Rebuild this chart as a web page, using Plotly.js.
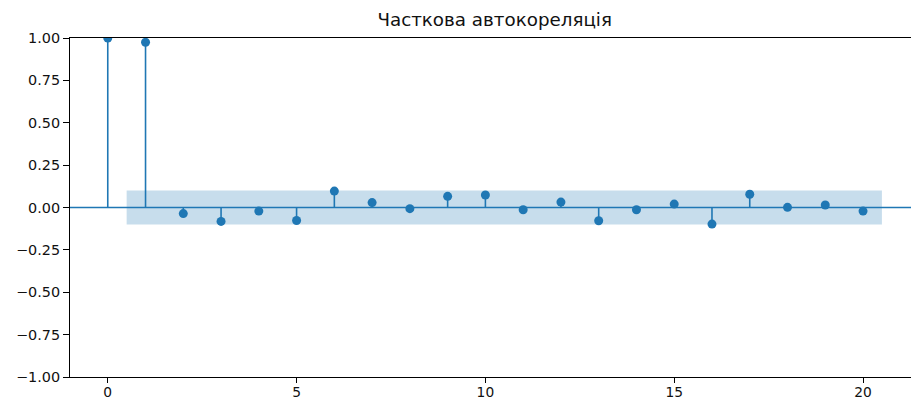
<!DOCTYPE html>
<html>
<head>
<meta charset="utf-8">
<script src="https://cdn.plot.ly/plotly-3.0.1.min.js"></script>
<style>html,body{margin:0;padding:0;background:#fff}#chart{width:911px;height:402px}</style>
</head>
<body>
<div id="chart"></div>
<script>
const chartTitle = "Часткова автокореляція";
const lags = [0,1,2,3,4,5,6,7,8,9,10,11,12,13,14,15,16,17,18,19,20];
const pacf = [1.0,0.975,-0.036,-0.082,-0.021,-0.077,0.097,0.029,-0.007,0.066,0.074,-0.013,0.032,-0.078,-0.013,0.020,-0.098,0.078,0.001,0.015,-0.021];
const confUpper = [0.1,0.1,0.1,0.1,0.1,0.1,0.1,0.1,0.1,0.1,0.1,0.1,0.1,0.1,0.1,0.1,0.1,0.1,0.1,0.1];
const xTicks = [0,5,10,15,20];
const yTicks = [-1.0,-0.75,-0.5,-0.25,0.0,0.25,0.5,0.75,1.0];

const blue = '#1f77b4';

// confidence band over lags 1..N, widened by half a lag each side
const bandLags = lags.slice(1);
const bx = bandLags.map((l,i)=> i===0 ? l-0.5 : (i===bandLags.length-1 ? l+0.5 : l));
const bandX = bx.concat(bx.slice().reverse());
const bandY = confUpper.concat(confUpper.slice().reverse().map(v=>-v));

// stems
const stemX = [], stemY = [];
lags.forEach((l,i)=>{ stemX.push(l,l,null); stemY.push(0,pacf[i],null); });

const traces = [
  {x: bandX, y: bandY, type:'scatter', mode:'lines', fill:'toself',
   fillcolor:'rgba(31,119,180,0.25)', line:{width:0}, hoverinfo:'skip', showlegend:false},
  {x: stemX, y: stemY, type:'scatter', mode:'lines', line:{color:blue, width:1.6}, showlegend:false, hoverinfo:'skip'},
  {x: lags, y: pacf, type:'scatter', mode:'markers', marker:{color:blue, size:9}, showlegend:false}
];

const tickFont = {family:'DejaVu Sans', size:14.4, color:'#111'};
const layout = {
  width:911, height:402,
  margin:{l:70, r:0, t:38, b:25},
  paper_bgcolor:'#fff', plot_bgcolor:'#fff',
  title:{text:chartTitle, font:{family:'DejaVu Sans', size:18.3, color:'#111'},
         x:0.543, xref:'container', xanchor:'center', y:1-20/402, yref:'container', yanchor:'middle'},
  xaxis:{range:[-1, 21.27], tickvals:xTicks, ticktext:xTicks.map(String), ticks:'outside', ticklen:5, tickwidth:1,
         ticklabelstandoff:-3,
         tickcolor:'#000', showline:true, linecolor:'#000', linewidth:1, mirror:true, showgrid:false, zeroline:false,
         tickfont:{family:'DejaVu Sans', size:13.8, color:'#111'}},
  yaxis:{range:[-1,1], tickvals:yTicks, ticktext:yTicks.map(v=>(v<0?'\u2212':'')+Math.abs(v).toFixed(2)), ticks:'outside', ticklen:6, tickwidth:1,
         tickcolor:'#000', showline:true, linecolor:'#000', linewidth:1, mirror:false, showgrid:false, zeroline:false,
         tickfont:tickFont},
  shapes:[{type:'line', xref:'paper', x0:0, x1:1, yref:'y', y0:0, y1:0, line:{color:blue, width:1.6}, layer:'above'}]
};
Plotly.newPlot('chart', traces, layout, {displayModeBar:false, staticPlot:true});
</script>
</body>
</html>
